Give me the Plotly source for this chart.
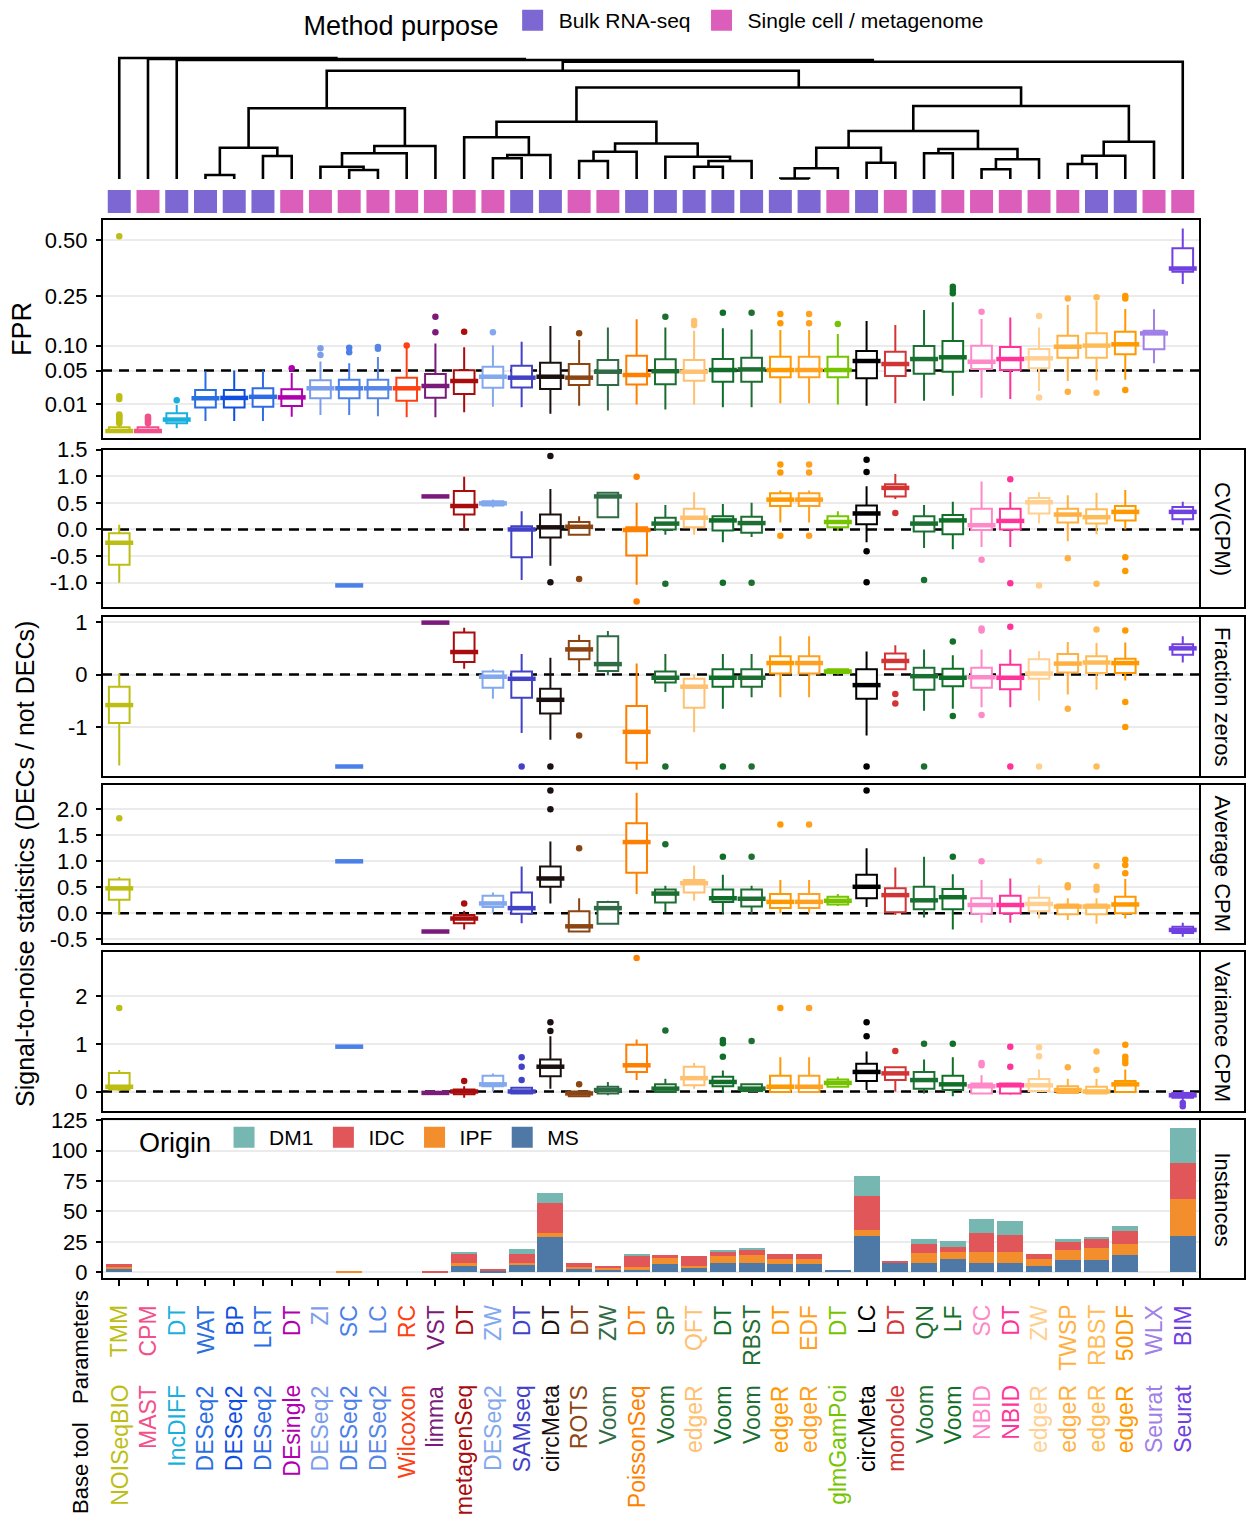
import plotly.graph_objects as go

W, H = 1247, 1515
ML, MR = 102, 47
FONT = "Liberation Sans"

# ---------------- categories ----------------
parameters = ["TMM", "CPM", "DT", "WAT", "BP", "LRT", "DT", "ZI", "SC", "LC", "RC", "VST", "DT", "ZW",
              "DT", "DT", "DT", "ZW", "DT", "SP", "QFT", "DT", "RBST", "DT", "EDF", "DT", "LC", "DT",
              "QN", "LF", "SC", "DT", "ZW", "TWSP", "RBST", "50DF", "WLX", "BIM"]
base_tool = ["NOISeqBIO", "MAST", "IncDIFF", "DESeq2", "DESeq2", "DESeq2", "DEsingle", "DESeq2", "DESeq2",
             "DESeq2", "Wilcoxon", "limma", "metagenSeq", "DESeq2", "SAMseq", "circMeta", "ROTS", "Voom",
             "PoissonSeq", "Voom", "edgeR", "Voom", "Voom", "edgeR", "edgeR", "glmGamPoi", "circMeta",
             "monocle", "Voom", "Voom", "NBID", "NBID", "edgeR", "edgeR", "edgeR", "edgeR", "Seurat", "Seurat"]
purpose = ["B", "S", "B", "B", "B", "B", "S", "S", "S", "S", "S", "S", "S", "S", "B", "B", "S", "S", "B",
           "B", "B", "B", "B", "B", "B", "S", "B", "S", "B", "S", "S", "S", "S", "S", "B", "B", "S", "S"]
method_colors = ["#BDBE14", "#F2508A", "#1AB0DE", "#2A6FE2", "#0F4FE0", "#2D6CE6", "#B000B0", "#7B9DEA",
                 "#4A80E8", "#5586E6", "#FF4012", "#7A1A7A", "#A80C0C", "#82A8EE", "#4242C8", "#1A1010",
                 "#8B4513", "#2F6B45", "#FF7F00", "#1C6E30", "#FFC070", "#106E2A", "#1F6E32", "#FF9900",
                 "#FFA020", "#76C400", "#000000", "#D33535", "#1A7030", "#107028", "#FF88C8", "#FF3399",
                 "#FFD090", "#FFB040", "#FFBB55", "#FF9900", "#A080E8", "#7040E0"]
purpose_names = {"B": "Bulk RNA-seq", "S": "Single cell / metagenome"}
purpose_colors = {"B": "#7C67D3", "S": "#DB5FBA"}

# ---------------- dendrogram (leaf index, merge heights) ----------------
dendro_E = [[[3, 4, 4], [5, 6, 23], 31.3], [[[7, [8, 9, 9], 12.3], 10, 25.7], 11, 33], 70.7]
dendro_G = [[12, [[13, 14, 20.7], 15, 24], 41.7],
            [[[16, 17, 18], 18, 27.3], [19, [[20, 21, 12.3], 22, 18], 22.3], 35.5], 57.3]
dendro_H = [[[[[23, 24, 0.5], 25, 10.7], [26, 27, 16.3], 31.3],
             [[28, 29, 25.7], [[30, 31, 9.7], 32, 19.7], 30], 48],
            [[[33, 34, 15], 35, 23.3], 36, 37.3], 73]
dendro = [0, [1, [2, [[dendro_E, [dendro_G, dendro_H, 91.5], 108.3], 37, 117.3], 119], 120], 121]

# ---------------- box statistics: (lower, q1, median, q3, upper) ----------------
fpr_stats = [
    (0, 0, 0, 0.0002, 0.0004), (0, 0, 0, 0.0002, 0.0004), (0.0001, 0.0008, 0.0018, 0.0043, 0.0093),
    (0.0014, 0.0075, 0.0147, 0.023, 0.049), (0.0014, 0.0075, 0.015, 0.023, 0.05),
    (0.0014, 0.008, 0.016, 0.025, 0.05), (0.0028, 0.0085, 0.0155, 0.024, 0.046),
    (0.0035, 0.0147, 0.025, 0.0352, 0.066), (0.0035, 0.0147, 0.025, 0.036, 0.063),
    (0.003, 0.0147, 0.025, 0.036, 0.075), (0.0026, 0.0126, 0.025, 0.039, 0.095),
    (0.0026, 0.0152, 0.0278, 0.0445, 0.105), (0.0048, 0.0188, 0.0343, 0.0505, 0.096),
    (0.0081, 0.0257, 0.0404, 0.0567, 0.101), (0.0077, 0.026, 0.039, 0.0585, 0.109),
    (0.0041, 0.0242, 0.0404, 0.064, 0.151), (0.0088, 0.029, 0.039, 0.0615, 0.1135),
    (0.0057, 0.029, 0.0482, 0.069, 0.147), (0.0097, 0.0298, 0.043, 0.0777, 0.171),
    (0.0064, 0.03, 0.049, 0.0704, 0.147), (0.0097, 0.0347, 0.0482, 0.069, 0.138),
    (0.0077, 0.0334, 0.051, 0.071, 0.1447), (0.0077, 0.0334, 0.052, 0.0737, 0.141),
    (0.0105, 0.0395, 0.051, 0.0757, 0.14), (0.0105, 0.0395, 0.051, 0.0757, 0.14),
    (0.0097, 0.0395, 0.051, 0.0757, 0.129), (0.0088, 0.038, 0.0672, 0.0877, 0.166),
    (0.0105, 0.0415, 0.0615, 0.0862, 0.154), (0.0126, 0.045, 0.071, 0.099, 0.2007),
    (0.0171, 0.048, 0.0745, 0.111, 0.227), (0.0152, 0.0527, 0.0658, 0.0997, 0.172),
    (0.014, 0.051, 0.071, 0.0967, 0.177), (0.0219, 0.0539, 0.0724, 0.092, 0.147),
    (0.0343, 0.0737, 0.0974, 0.1244, 0.2176), (0.035, 0.0737, 0.1, 0.1307, 0.2316),
    (0.036, 0.0806, 0.103, 0.135, 0.204), (0.0628, 0.0915, 0.1307, 0.138, 0.203),
    (0.296, 0.348, 0.362, 0.4576, 0.5627)]
fpr_outliers = {0: [0.0008, 0.0012, 0.0017, 0.0022, 0.0027, 0.0032, 0.0037, 0.014, 0.0165, 0.52],
                1: [0.0008, 0.0013, 0.0018, 0.0023, 0.0028], 2: [0.013], 6: [0.054],
                7: [0.079, 0.094], 8: [0.085, 0.095], 9: [0.093, 0.097], 10: [0.1],
                11: [0.1335, 0.179], 12: [0.135], 13: [0.1335], 16: [0.1307], 19: [0.179],
                20: [0.154, 0.166], 21: [0.192], 22: [0.192], 23: [0.159, 0.1876], 24: [0.159, 0.1876],
                25: [0.157], 29: [0.26, 0.2725, 0.285], 30: [0.195], 32: [0.0155, 0.181],
                33: [0.0212, 0.241], 34: [0.02, 0.245], 35: [0.023, 0.241, 0.25]}

cv_stats = [(-1.0, -0.66, -0.25, -0.07, 0.09), None, None, None, None, None, None, None,
            (-1.06, -1.05, -1.05, -1.05, -1.04), None, None, (0.61, 0.62, 0.62, 0.62, 0.63),
            (-0.01, 0.28, 0.44, 0.72, 0.99), (0.41, 0.45, 0.49, 0.53, 0.56),
            (-0.95, -0.52, 0.0, 0.06, 0.34), (-0.68, -0.15, 0.04, 0.28, 0.76),
            (-0.12, -0.1, 0.05, 0.14, 0.25), (0.22, 0.23, 0.62, 0.69, 0.7),
            (-1.04, -0.49, -0.01, 0.04, 0.5), (-0.1, 0.0, 0.11, 0.22, 0.46),
            (-0.1, 0.04, 0.22, 0.39, 0.7), (-0.24, -0.02, 0.17, 0.25, 0.48),
            (-0.14, -0.06, 0.12, 0.24, 0.5), (0.13, 0.44, 0.56, 0.68, 0.73),
            (0.13, 0.44, 0.56, 0.68, 0.73), (-0.03, 0.04, 0.14, 0.25, 0.34),
            (-0.24, 0.1, 0.3, 0.45, 0.81), (0.57, 0.62, 0.78, 0.85, 1.04),
            (-0.35, -0.04, 0.11, 0.25, 0.46), (-0.37, -0.09, 0.17, 0.27, 0.52),
            (-0.33, -0.01, 0.08, 0.39, 0.9), (-0.33, 0.0, 0.16, 0.39, 0.7),
            (0.11, 0.3, 0.51, 0.59, 0.7), (-0.22, 0.13, 0.28, 0.39, 0.64),
            (-0.09, 0.11, 0.23, 0.38, 0.69), (0.0, 0.17, 0.33, 0.44, 0.74), None,
            (0.09, 0.19, 0.33, 0.42, 0.52)]
cv_outliers = {15: [1.38, -0.99], 16: [-0.93], 18: [0.99, -1.35], 19: [-1.02], 21: [-1.0], 22: [-1.0],
               23: [1.07, 1.22, -0.12], 24: [1.07, 1.22, -0.12], 26: [1.31, 1.08, -0.41, -0.99],
               27: [0.31], 28: [-0.95], 30: [-0.57], 31: [0.94, -1.01], 32: [-1.05], 33: [-0.54],
               34: [-1.02], 35: [-0.52, -0.78]}

fz_stats = [(-1.73, -0.92, -0.58, -0.23, 0.02), None, None, None, None, None, None, None,
            (-1.76, -1.75, -1.75, -1.75, -1.74), None, None, (0.98, 0.99, 0.99, 0.99, 1.0),
            (0.11, 0.24, 0.43, 0.8, 0.89), (-0.46, -0.25, -0.04, 0.06, 0.1),
            (-1.11, -0.44, -0.08, 0.06, 0.39), (-1.24, -0.74, -0.48, -0.27, 0.32),
            (0.05, 0.29, 0.48, 0.64, 0.76), (-0.01, 0.07, 0.2, 0.73, 0.83),
            (-1.81, -1.68, -1.09, -0.6, 0.21), (-0.33, -0.15, -0.06, 0.06, 0.39),
            (-1.1, -0.63, -0.23, -0.08, 0.0), (-0.65, -0.23, -0.06, 0.1, 0.39),
            (-0.43, -0.23, -0.06, 0.1, 0.39), (-0.43, 0.02, 0.22, 0.35, 0.73),
            (-0.43, 0.02, 0.22, 0.35, 0.73), (0.0, 0.03, 0.06, 0.1, 0.12),
            (-1.16, -0.46, -0.2, 0.1, 0.44), (0.1, 0.1, 0.26, 0.4, 0.56),
            (-0.69, -0.29, -0.03, 0.13, 0.48), (-0.65, -0.22, -0.06, 0.11, 0.37),
            (-0.62, -0.25, -0.05, 0.13, 0.48), (-0.62, -0.28, -0.06, 0.19, 0.48),
            (-0.5, -0.08, 0.02, 0.29, 0.45), (-0.38, 0.04, 0.21, 0.39, 0.62),
            (-0.29, 0.03, 0.23, 0.35, 0.6), (-0.11, 0.03, 0.22, 0.3, 0.61), None,
            (0.23, 0.38, 0.5, 0.58, 0.73)]
fz_outliers = {14: [-1.75], 15: [-1.75], 16: [-1.16], 19: [-1.75], 21: [-1.75], 22: [-1.75], 26: [-1.75],
               27: [-0.37, -0.55], 28: [-1.75], 29: [0.63, -0.79], 30: [0.84, 0.88, -0.77],
               31: [0.91, -1.75], 32: [-1.75], 33: [-0.65], 34: [0.86, -1.75], 35: [0.84, -0.52, -1.0]}

avg_stats = [(-0.03, 0.26, 0.48, 0.65, 0.7), None, None, None, None, None, None, None,
             (0.99, 1.0, 1.0, 1.0, 1.01), None, None, (-0.36, -0.35, -0.35, -0.35, -0.34),
             (-0.31, -0.19, -0.1, -0.03, 0.05), (0.01, 0.12, 0.19, 0.34, 0.4),
             (-0.19, -0.01, 0.1, 0.4, 0.9), (0.19, 0.51, 0.67, 0.9, 1.38),
             (-0.35, -0.35, -0.25, 0.04, 0.29), (-0.22, -0.2, 0.1, 0.22, 0.24),
             (0.37, 0.78, 1.37, 1.73, 2.32), (0.02, 0.21, 0.38, 0.46, 0.53),
             (0.24, 0.4, 0.58, 0.64, 0.92), (-0.01, 0.22, 0.29, 0.46, 0.74),
             (-0.01, 0.13, 0.28, 0.46, 0.53), (0.0, 0.1, 0.22, 0.37, 0.64),
             (0.0, 0.1, 0.22, 0.37, 0.64), (0.14, 0.17, 0.24, 0.32, 0.37),
             (0.12, 0.29, 0.51, 0.74, 1.25), (-0.03, 0.02, 0.35, 0.48, 0.88),
             (-0.08, 0.08, 0.25, 0.51, 1.09), (-0.31, 0.08, 0.31, 0.47, 0.75),
             (-0.18, -0.01, 0.16, 0.29, 0.64), (-0.18, 0.0, 0.16, 0.34, 0.67),
             (-0.1, 0.04, 0.18, 0.3, 0.54), (-0.13, -0.02, 0.13, 0.17, 0.29),
             (-0.2, -0.02, 0.13, 0.17, 0.29), (-0.1, 0.0, 0.17, 0.32, 0.66), None,
             (-0.45, -0.38, -0.32, -0.26, -0.18)]
avg_outliers = {0: [1.83], 12: [0.19], 15: [2.0, 2.36], 16: [1.25], 19: [1.33], 21: [1.09], 22: [1.09],
                23: [1.71], 24: [1.71], 26: [2.36], 29: [1.09], 30: [1.0], 32: [1.0], 33: [0.5, 0.54],
                34: [0.45, 0.51, 0.91], 35: [0.77, 0.93, 1.03]}

var_stats = [(0.0, 0.04, 0.1, 0.39, 0.45), None, None, None, None, None, None, None,
             (0.93, 0.94, 0.94, 0.94, 0.95), None, None, (-0.04, -0.03, -0.03, -0.03, -0.02),
             (-0.13, -0.06, 0.0, 0.04, 0.11), (0.0, 0.11, 0.15, 0.33, 0.38),
             (-0.04, -0.04, 0.0, 0.08, 0.1), (0.06, 0.32, 0.52, 0.67, 1.16),
             (-0.1, -0.1, -0.04, 0.0, 0.0), (-0.08, -0.04, 0.03, 0.1, 0.2),
             (0.24, 0.41, 0.55, 0.98, 1.09), (-0.01, -0.01, 0.06, 0.15, 0.27),
             (0.06, 0.13, 0.28, 0.52, 0.6), (-0.03, 0.11, 0.2, 0.31, 0.44),
             (0.0, 0.01, 0.06, 0.15, 0.15), (-0.01, -0.01, 0.1, 0.33, 0.72),
             (-0.01, -0.01, 0.1, 0.33, 0.72), (0.1, 0.1, 0.18, 0.25, 0.31),
             (0.03, 0.22, 0.41, 0.58, 0.84), (0.0, 0.24, 0.38, 0.51, 0.51),
             (-0.04, 0.06, 0.24, 0.41, 0.67), (-0.1, 0.03, 0.15, 0.33, 0.72),
             (-0.04, -0.04, 0.11, 0.17, 0.34), (-0.07, -0.04, 0.13, 0.17, 0.17),
             (0.0, 0.01, 0.13, 0.26, 0.46), (-0.03, -0.03, 0.03, 0.11, 0.27),
             (-0.04, -0.04, 0.0, 0.1, 0.27), (-0.03, -0.01, 0.15, 0.22, 0.46), None,
             (-0.18, -0.13, -0.08, -0.03, 0.03)]
var_outliers = {0: [1.75], 12: [0.22], 14: [0.24, 0.52, 0.72], 15: [1.27, 1.45], 16: [0.15], 18: [2.8],
                19: [1.28], 21: [0.73, 1.01, 1.08], 22: [1.06], 23: [1.75], 24: [1.75], 26: [1.16, 1.45],
                27: [0.85], 28: [1.0], 29: [1.0], 30: [0.55, 0.6], 31: [0.52, 0.94], 32: [0.74, 0.93],
                33: [0.51], 34: [0.45, 0.84], 35: [0.59, 0.66, 0.73, 0.98], 37: [-0.24, -0.31]}

# ---------------- instances (stacked by origin) ----------------
origin_names = ["MS", "IPF", "IDC", "DM1"]
origin_colors = {"DM1": "#76B7B2", "IDC": "#E15759", "IPF": "#F28E2B", "MS": "#4E79A7"}
inst_MS = [3, 0, 0, 0, 0, 0, 0, 0, 0, 0, 0, 0, 5, 1, 6, 29, 3, 2, 2, 7, 4, 8, 8, 7, 7, 2, 30, 8, 8, 11, 8, 8,
           5, 10, 10, 14, 0, 30]
inst_IPF = [1, 0, 0, 0, 0, 0, 0, 0, 1, 0, 0, 0, 3, 0, 2, 3, 1, 2, 2, 5, 1, 5, 6, 4, 4, 0, 5, 0, 8, 6, 9, 9,
            6, 8, 10, 9, 0, 30]
inst_IDC = [3, 0, 0, 0, 0, 0, 0, 0, 0, 0, 0, 1, 7, 2, 7, 25, 4, 1, 9, 2, 8, 4, 5, 4, 4, 0, 28, 1, 7, 4, 15,
            14, 4, 7, 7, 11, 0, 30]
inst_DM1 = [0, 0, 0, 0, 0, 0, 0, 0, 0, 0, 0, 0, 2, 0, 4, 8, 0, 0, 2, 0, 0, 1, 1, 0, 0, 0, 16, 0, 4, 5, 12,
            11, 0, 2, 2, 4, 0, 29]
inst_values = {"MS": inst_MS, "IPF": inst_IPF, "IDC": inst_IDC, "DM1": inst_DM1}

# ---------------- layout geometry (pixels) ----------------
n = len(parameters)
xs = list(range(n))
X_RANGE = [-0.6, n - 1 + 0.6]
PW = W - ML - MR


def dom(top, bottom):
    return [1 - bottom / H, 1 - top / H]


panels = {
    "y": dict(px=(50, 215), rng=[-36, 129]),
    "y2": dict(px=(219, 439), rng=[-0.0296, 0.785]),
    "y3": dict(px=(449, 608), rng=[-1.474, 1.51]),
    "y4": dict(px=(616, 777), rng=[-1.95, 1.116]),
    "y5": dict(px=(784, 944), rng=[-0.59, 2.487]),
    "y6": dict(px=(951, 1112), rng=[-0.43, 2.947]),
    "y7": dict(px=(1119, 1279), rng=[-5.5, 126]),
}

fig = go.Figure()

# ---------------- dendrogram ----------------
dx, dy = [], []


def walk(node):
    if isinstance(node, int):
        return float(node), 0.0
    left, right, h = node
    xl, hl = walk(left)
    xr, hr = walk(right)
    dx.extend([xl, xl, xr, xr, None])
    dy.extend([hl, h, h, hr, None])
    return (xl + xr) / 2, h


walk(dendro)
fig.add_trace(go.Scatter(x=dx, y=dy, mode="lines", line=dict(color="black", width=2.6),
                         xaxis="x", yaxis="y", showlegend=False, hoverinfo="skip"))


def legend_key(name, color, yaxis, legend):
    return go.Scatter(x=[None], y=[None], mode="markers", name=name,
                      marker=dict(symbol="square", size=16, color=color, line=dict(color=color, width=5)),
                      xaxis="x", yaxis=yaxis, legend=legend, showlegend=True)


# purpose tiles
TILE_Y = -22.5
for key in ["B", "S"]:
    idx = [i for i in xs if purpose[i] == key]
    fig.add_trace(go.Scatter(x=idx, y=[TILE_Y] * len(idx), mode="markers",
                             marker=dict(symbol="square", size=23, color=purpose_colors[key]),
                             xaxis="x", yaxis="y", showlegend=False, hoverinfo="skip"))
    fig.add_trace(legend_key(purpose_names[key], purpose_colors[key], "y", "legend"))

# ---------------- boxes ----------------
BOX_W = 0.72


def add_boxes(stats, outliers, yaxis, tf=lambda v: v):
    for i, s in enumerate(stats):
        if s is None:
            continue
        lf, q1, md, q3, uf = [tf(v) for v in s]
        fig.add_trace(go.Box(x=[i], lowerfence=[lf], q1=[q1], median=[md], q3=[q3], upperfence=[uf],
                             width=BOX_W, whiskerwidth=0, line=dict(color=method_colors[i], width=2),
                             fillcolor="white", boxpoints=False, xaxis="x", yaxis=yaxis,
                             showlegend=False, hoverinfo="skip"))
    mi = [i for i, s in enumerate(stats) if s is not None]
    fig.add_trace(go.Scatter(x=mi, y=[tf(stats[i][2]) for i in mi], mode="markers",
                             marker=dict(symbol="line-ew", size=20,
                                         line=dict(width=4.5, color=[method_colors[i] for i in mi])),
                             xaxis="x", yaxis=yaxis, showlegend=False, hoverinfo="skip"))
    ox, oy, oc = [], [], []
    for i, vals in outliers.items():
        for v in vals:
            ox.append(i)
            oy.append(tf(v))
            oc.append(method_colors[i])
    fig.add_trace(go.Scatter(x=ox, y=oy, mode="markers", marker=dict(size=6.5, color=oc),
                             xaxis="x", yaxis=yaxis, showlegend=False, hoverinfo="skip"))


add_boxes(fpr_stats, fpr_outliers, "y2", tf=lambda v: v ** 0.5)
add_boxes(cv_stats, cv_outliers, "y3")
add_boxes(fz_stats, fz_outliers, "y4")
add_boxes(avg_stats, avg_outliers, "y5")
add_boxes(var_stats, var_outliers, "y6")

# ---------------- instances ----------------
for o in origin_names:
    fig.add_trace(go.Bar(x=xs, y=inst_values[o], width=0.9, marker=dict(color=origin_colors[o], line=dict(width=0)),
                         xaxis="x", yaxis="y7", showlegend=False, hoverinfo="skip"))
for o in ["DM1", "IDC", "IPF", "MS"]:
    fig.add_trace(legend_key(o, origin_colors[o], "y7", "legend2"))

# ---------------- axes ----------------
tick_font = dict(family=FONT, size=22, color="black")
fpr_ticks = [0.01, 0.05, 0.10, 0.25, 0.50]
axis_ticks = {
    "y2": ([v ** 0.5 for v in fpr_ticks], ["%.2f" % v for v in fpr_ticks]),
    "y3": ([-1.0, -0.5, 0.0, 0.5, 1.0, 1.5], ["-1.0", "-0.5", "0.0", "0.5", "1.0", "1.5"]),
    "y4": ([-1, 0, 1], ["-1", "0", "1"]),
    "y5": ([-0.5, 0.0, 0.5, 1.0, 1.5, 2.0], ["-0.5", "0.0", "0.5", "1.0", "1.5", "2.0"]),
    "y6": ([0, 1, 2], ["0", "1", "2"]),
    "y7": ([0, 25, 50, 75, 100, 125], ["0", "25", "50", "75", "100", "125"]),
}

layout_axes = {}
for name, p in panels.items():
    key = "yaxis" if name == "y" else "yaxis" + name[1:]
    ax = dict(domain=dom(*p["px"]), range=p["rng"], anchor="x", zeroline=False, fixedrange=True)
    if name == "y":
        ax.update(visible=False, showgrid=False)
    else:
        tv, tt = axis_ticks[name]
        ax.update(tickvals=tv, ticktext=tt, showgrid=True, gridcolor="#EBEBEB", gridwidth=1.6,
                  ticks="outside", ticklen=5, tickwidth=1.5, tickcolor="black", tickfont=tick_font,
                  ticklabelstandoff=4, showline=False)
    layout_axes[key] = ax

shapes = []
# reference lines (drawn between grid and boxes)
ref_lines = {"y2": 0.05 ** 0.5, "y3": 0, "y4": 0, "y5": 0, "y6": 0}
for name, v in ref_lines.items():
    shapes.append(dict(type="line", xref="x", yref=name, x0=X_RANGE[0], x1=X_RANGE[1], y0=v, y1=v,
                       line=dict(color="black", width=2.5, dash="10px,7px"), layer="between"))
# panel borders & strips
strip_w = 45 / PW
strip_text = {"y3": "CV(CPM)", "y4": "Fraction zeros", "y5": "Average CPM", "y6": "Variance CPM",
              "y7": "Instances"}
annotations = []
for name in ["y2", "y3", "y4", "y5", "y6", "y7"]:
    shapes.append(dict(type="rect", xref="paper", yref=name + " domain", x0=0, x1=1, y0=0, y1=1,
                       line=dict(color="black", width=2), layer="above"))
    if name in strip_text:
        shapes.append(dict(type="rect", xref="paper", yref=name + " domain", x0=1, x1=1 + strip_w, y0=0, y1=1,
                           line=dict(color="black", width=2), fillcolor="white", layer="above"))
        annotations.append(dict(text=strip_text[name], xref="paper", yref=name + " domain",
                                x=1 + strip_w / 2, y=0.5, xanchor="center", yanchor="middle",
                                textangle=90, showarrow=False,
                                font=dict(family=FONT, size=22, color="black")))

# axis titles
annotations.append(dict(text="FPR", xref="paper", yref="paper", x=(22 - ML) / PW, y=1 - 329 / H,
                        xanchor="center", yanchor="middle",
                        textangle=-90, showarrow=False, font=dict(family=FONT, size=27, color="black")))
annotations.append(dict(text="Signal-to-noise statistics (DECs / not DECs)", xref="paper", yref="paper",
                        x=(25 - ML) / PW, y=1 - 864 / H, xanchor="center", yanchor="middle",
                        textangle=-90, showarrow=False,
                        font=dict(family=FONT, size=25, color="black")))
# bottom label rows
annotations.append(dict(text="Parameters", xref="paper", yref="paper", x=(80 - ML) / PW, y=1 - 1347 / H,
                        xanchor="center", yanchor="middle",
                        textangle=-90, showarrow=False, font=dict(family=FONT, size=22, color="black")))
annotations.append(dict(text="Base tool", xref="paper", yref="paper", x=(80 - ML) / PW, y=1 - 1468 / H,
                        xanchor="center", yanchor="middle",
                        textangle=-90, showarrow=False, font=dict(family=FONT, size=22, color="black")))
for i in xs:
    annotations.append(dict(text=parameters[i], xref="x", yref="paper", x=i, y=1 - 1303 / H,
                            xanchor="center", yanchor="top", textangle=-90, showarrow=False,
                            font=dict(family=FONT, size=23, color=method_colors[i])))
    annotations.append(dict(text=base_tool[i], xref="x", yref="paper", x=i, y=1 - 1383 / H,
                            xanchor="center", yanchor="top", textangle=-90, showarrow=False,
                            font=dict(family=FONT, size=23, color=method_colors[i])))

fig.update_layout(
    width=W, height=H,
    margin=dict(l=ML, r=MR, t=0, b=0, autoexpand=False),
    paper_bgcolor="white", plot_bgcolor="white",
    font=dict(family=FONT, color="black"),
    barmode="stack", bargap=0.1,
    xaxis=dict(domain=[0, 1], range=X_RANGE, anchor="y7", showgrid=False, zeroline=False,
               tickvals=xs, showticklabels=False, ticks="outside", ticklen=6, tickwidth=1.5,
               tickcolor="black", showline=False, fixedrange=True),
    legend=dict(title=dict(text="Method purpose", font=dict(family=FONT, size=27, color="black"), side="left"),
                orientation="h", x=(645 - ML) / PW, xanchor="center", y=1.0, yanchor="top",
                font=dict(family=FONT, size=21, color="black"), bgcolor="rgba(0,0,0,0)",
                itemsizing="trace", itemwidth=42, traceorder="normal"),
    legend2=dict(title=dict(text="Origin", font=dict(family=FONT, size=27, color="black"), side="left"),
                 orientation="h", x=(137 - ML) / PW, xanchor="left", y=1 - 1140 / H, yanchor="middle",
                 font=dict(family=FONT, size=21, color="black"), bgcolor="rgba(0,0,0,0)",
                 itemsizing="trace", itemwidth=40, traceorder="normal"),
    shapes=shapes, annotations=annotations,
    **layout_axes,
)

fig.write_html("out.html", config={"displayModeBar": False},
               post_script="document.body.style.margin='0px';document.body.style.padding='0px';"
                           "document.body.style.overflow='hidden';")
